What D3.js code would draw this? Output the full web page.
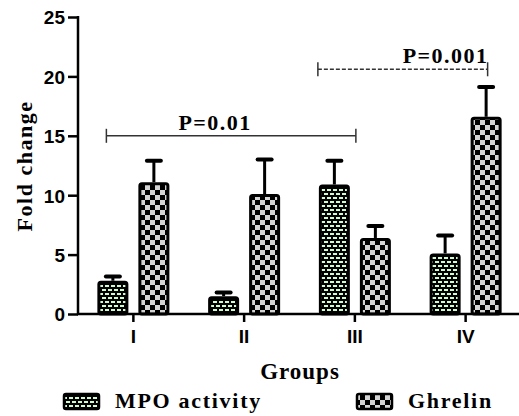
<!DOCTYPE html>
<html>
<head>
<meta charset="utf-8">
<script src="https://cdn.jsdelivr.net/npm/d3@7"></script>
<style>
  html, body { margin: 0; padding: 0; background: #fff; }
</style>
</head>
<body>
<svg id="chart" width="519" height="416"></svg>
<script>
  // data
  var groups = ['I', 'II', 'III', 'IV'];
  var seriesNames = ['MPO activity', 'Ghrelin'];
  var mpoValues = [2.8, 1.5, 10.9, 5.1];
  var mpoErrors = [0.35, 0.3, 2.0, 1.5];
  var ghrelinValues = [11.1, 10.1, 6.4, 16.6];
  var ghrelinErrors = [1.8, 2.9, 1.0, 2.5];
  var yTicks = [0, 5, 10, 15, 20, 25];
  var brackets = [
    { from: 'I', to: 'III', y: 15, label: 'P=0.01', dashed: false },
    { from: 'III', to: 'IV', y: 20.6, label: 'P=0.001', dashed: true }
  ];

  var SANS = '"Liberation Sans", Arial, sans-serif';
  var SERIF = '"Liberation Serif", "Times New Roman", serif';

  var svg = d3.select('#chart');
  var defs = svg.append('defs');

  // MPO: black with light green staggered bricks
  var p1 = defs.append('pattern').attr('id', 'patMpo')
    .attr('patternUnits', 'userSpaceOnUse').attr('width', 6).attr('height', 8);
  p1.append('rect').attr('width', 6).attr('height', 8).attr('fill', '#000');
  [[0, 1, 4], [3, 5, 3], [0, 5, 1]].forEach(function (r) {
    p1.append('rect').attr('x', r[0]).attr('y', r[1]).attr('width', r[2]).attr('height', 2).attr('fill', '#ccffcc');
  });

  // Ghrelin: black / light grey checkerboard
  var p2 = defs.append('pattern').attr('id', 'patGhr')
    .attr('patternUnits', 'userSpaceOnUse').attr('width', 10).attr('height', 10);
  p2.append('rect').attr('width', 10).attr('height', 10).attr('fill', '#000');
  p2.append('rect').attr('x', 0).attr('y', 0).attr('width', 5).attr('height', 5).attr('fill', '#d4d4d4');
  p2.append('rect').attr('x', 5).attr('y', 5).attr('width', 5).attr('height', 5).attr('fill', '#d4d4d4');

  var fills = { 'MPO activity': 'url(#patMpo)', 'Ghrelin': 'url(#patGhr)' };

  // scales
  var x = d3.scaleBand().domain(groups).range([78, 521]).padding(0);
  var xInner = d3.scaleBand().domain(seriesNames).range([-36, 36]).paddingInner(10 / 41);
  var y = d3.scaleLinear().domain([0, 25]).range([314, 17]);

  var rows = [];
  groups.forEach(function (g, i) {
    rows.push({ group: g, series: 'MPO activity', value: mpoValues[i], err: mpoErrors[i] });
    rows.push({ group: g, series: 'Ghrelin', value: ghrelinValues[i], err: ghrelinErrors[i] });
  });

  function cx(d) { return x(d.group) + x.bandwidth() / 2 + xInner(d.series) + xInner.bandwidth() / 2; }

  // error bars (upper only)
  var eb = svg.append('g');
  eb.selectAll('line.stem').data(rows).enter().append('line')
    .attr('x1', cx).attr('x2', cx)
    .attr('y1', function (d) { return y(d.value); })
    .attr('y2', function (d) { return y(d.value + d.err); })
    .attr('stroke', '#000').attr('stroke-width', 3);
  eb.selectAll('line.cap').data(rows).enter().append('line')
    .attr('x1', function (d) { return cx(d) - 7; })
    .attr('x2', function (d) { return cx(d) + 7; })
    .attr('y1', function (d) { return y(d.value + d.err); })
    .attr('y2', function (d) { return y(d.value + d.err); })
    .attr('stroke', '#000').attr('stroke-width', 4).attr('stroke-linecap', 'round');

  // bars
  svg.append('g').selectAll('rect').data(rows).enter().append('rect')
    .attr('x', function (d) { return cx(d) - xInner.bandwidth() / 2 + 1.5; })
    .attr('y', function (d) { return y(d.value) + 1.5; })
    .attr('width', xInner.bandwidth() - 3)
    .attr('height', function (d) { return y(0) - y(d.value) - 1.5; })
    .attr('rx', 2)
    .attr('fill', function (d) { return fills[d.series]; })
    .attr('stroke', '#000').attr('stroke-width', 3);

  // y axis
  var yAxis = svg.append('g').attr('transform', 'translate(78,0)')
    .call(d3.axisLeft(y).tickValues(yTicks).tickSize(10).tickPadding(3).tickFormat(d3.format('d')));
  yAxis.select('.domain').attr('stroke-width', 2.5).attr('d', 'M0,' + y(0) + 'V' + (y(25) - 1));
  yAxis.selectAll('.tick line').attr('stroke-width', 2.5);
  yAxis.selectAll('.tick text')
    .style('font-family', SANS).style('font-weight', 'bold').style('font-size', '19px')
    .attr('dy', '0.36em');

  // x axis
  var xAxis = svg.append('g').attr('transform', 'translate(0,' + y(0) + ')')
    .call(d3.axisBottom(x).tickSize(8).tickPadding(8));
  xAxis.select('.domain').attr('stroke-width', 2.5).attr('d', 'M77,0H519');
  xAxis.selectAll('.tick line').attr('stroke-width', 2.5);
  xAxis.selectAll('.tick text')
    .style('font-family', SANS).style('font-weight', 'bold').style('font-size', '19px');

  // significance brackets
  var br = svg.append('g');
  brackets.forEach(function (b) {
    var x1, x2;
    if (b.dashed) {
      x1 = x(b.from) + x.bandwidth() / 2 - 37;
      x2 = x(b.to) + x.bandwidth() / 2 + 22;
    } else {
      x1 = x(b.from) + x.bandwidth() / 2 - 27;
      x2 = x(b.to) + x.bandwidth() / 2 + 1;
    }
    var yy = y(b.y);
    br.append('line').attr('x1', x1).attr('x2', x2).attr('y1', yy).attr('y2', yy)
      .attr('stroke', '#333').attr('stroke-width', 1.5)
      .attr('stroke-dasharray', b.dashed ? '4,2' : null);
    [x1, x2].forEach(function (xx) {
      br.append('line').attr('x1', xx).attr('x2', xx).attr('y1', yy - 7).attr('y2', yy + 7)
        .attr('stroke', '#333').attr('stroke-width', 1.5);
    });
    br.append('text')
      .attr('x', b.dashed ? x2 + 1 : (x1 + x2) / 2 - 16)
      .attr('y', yy - 6)
      .attr('text-anchor', b.dashed ? 'end' : 'middle')
      .style('font-family', SERIF).style('font-weight', 'bold')
      .style('font-size', '22px').style('letter-spacing', '1.5px')
      .text(b.label);
  });

  // axis titles
  svg.append('text')
    .attr('transform', 'translate(32,166) rotate(-90)')
    .attr('text-anchor', 'middle')
    .style('font-family', SERIF).style('font-weight', 'bold')
    .style('font-size', '22px').style('letter-spacing', '1.5px')
    .text('Fold change');
  svg.append('text')
    .attr('x', 300).attr('y', 379)
    .attr('text-anchor', 'middle')
    .style('font-family', SERIF).style('font-weight', 'bold')
    .style('font-size', '23px').style('letter-spacing', '1px')
    .text('Groups');

  // legend
  var legendX = [63, 356];
  var lg = svg.append('g');
  seriesNames.forEach(function (s, i) {
    lg.append('rect').attr('x', legendX[i] + 1).attr('y', 394).attr('width', 35).attr('height', 15)
      .attr('rx', 2)
      .attr('fill', fills[s]).attr('stroke', '#000').attr('stroke-width', 2.5);
    lg.append('text')
      .attr('x', legendX[i] + 52).attr('y', 408)
      .style('font-family', SERIF).style('font-weight', 'bold')
      .style('font-size', '22px').style('letter-spacing', '1.7px')
      .text(s);
  });
</script>
</body>
</html>
